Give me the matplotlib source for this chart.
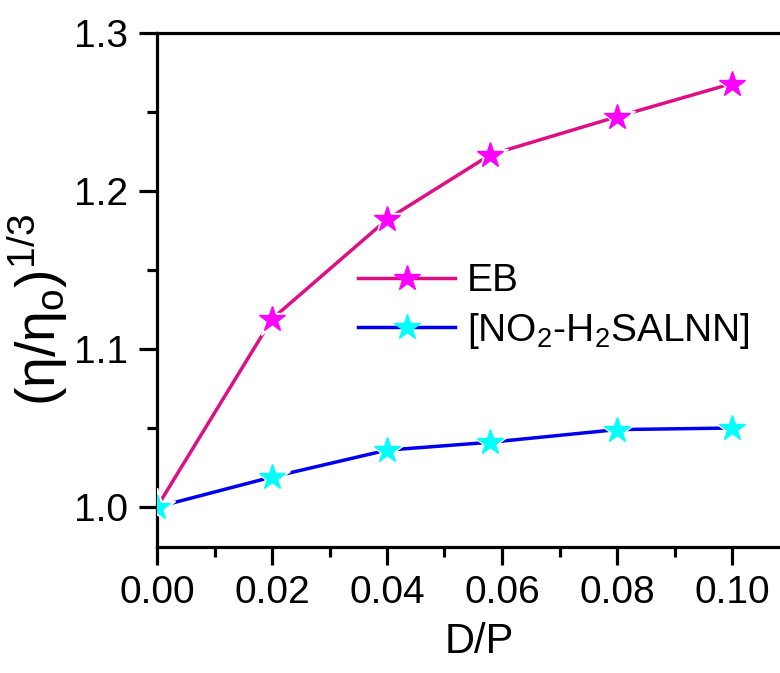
# plot.py
# 粘度比随 D/P 变化的折线图

import matplotlib
matplotlib.use('Agg')
import matplotlib.pyplot as plt
from matplotlib.ticker import MultipleLocator

plt.rcParams['font.family'] = ['Liberation Sans', 'DejaVu Sans']
plt.rcParams['mathtext.fontset'] = 'custom'
plt.rcParams['mathtext.rm'] = 'Liberation Sans'
plt.rcParams['mathtext.it'] = 'Liberation Sans'

# -----------------数据
dp = [0.0, 0.02, 0.04, 0.058, 0.08, 0.10]
eb = [1.000, 1.119, 1.182, 1.223, 1.247, 1.268]
no2 = [1.000, 1.019, 1.036, 1.041, 1.049, 1.050]
labels = ['EB', '[NO$_2$-H$_2$SALNN]']

# -----------------绘图
W, H = 780, 673
fig = plt.figure(figsize=(W / 100, H / 100), dpi=100)
ax = fig.add_axes([157 / W, 1 - 547 / H, 644 / W, (547 - 33) / H])


def draw(x, y, lc, mc, lab, z):
    ax.plot(x, y, color=lc, lw=2.5, zorder=2)
    ax.plot(x, y, ls='none', marker='*', ms=28, color='white', zorder=z)  # 线与点之间留白
    ax.plot(x, y, ls='none', marker='*', ms=19, color=mc, zorder=z + 1)
    # 图例用的句柄
    h, = ax.plot([], [], color=lc, lw=2.5, marker='*', ms=19, mfc=mc, mec=mc, label=lab)
    return h


h1 = draw(dp, eb, '#de0f84', '#ff00ff', labels[0], 3)
h2 = draw(dp, no2, '#0000ee', '#00ffff', labels[1], 5)

ax.set_xlim(0, 0.112)
ax.set_ylim(0.9747, 1.3)
ax.xaxis.set_major_locator(MultipleLocator(0.02))
ax.xaxis.set_minor_locator(MultipleLocator(0.01))
ax.yaxis.set_major_locator(MultipleLocator(0.1))
ax.yaxis.set_minor_locator(MultipleLocator(0.05))
ax.xaxis.set_major_formatter(plt.FormatStrFormatter('%.2f'))
ax.yaxis.set_major_formatter(plt.FormatStrFormatter('%.1f'))

for s in ax.spines.values():
    s.set_linewidth(2.3)
ax.spines['right'].set_visible(False)
ax.tick_params(which='major', direction='out', length=13, width=2.3, labelsize=28)
ax.tick_params(axis='x', which='major', pad=7)
ax.tick_params(axis='y', which='major', pad=8)
ax.tick_params(which='minor', direction='out', length=7, width=2.3)

ax.set_xlabel('D/P', fontsize=30, labelpad=8)
ax.set_ylabel(r'$(\eta/\eta_\mathrm{o})^{1/3}$', fontsize=40)
ax.yaxis.set_label_coords(-0.135, 0.461)

ax.legend(handles=[h1, h2], loc='center left', bbox_to_anchor=(358 / W, 1 - 307 / H),
          bbox_transform=fig.transFigure, frameon=False, borderpad=0, borderaxespad=0,
          fontsize=28, handlelength=2.5, handletextpad=0.3, labelspacing=0.3)

fig.savefig('out.png', dpi=100)
